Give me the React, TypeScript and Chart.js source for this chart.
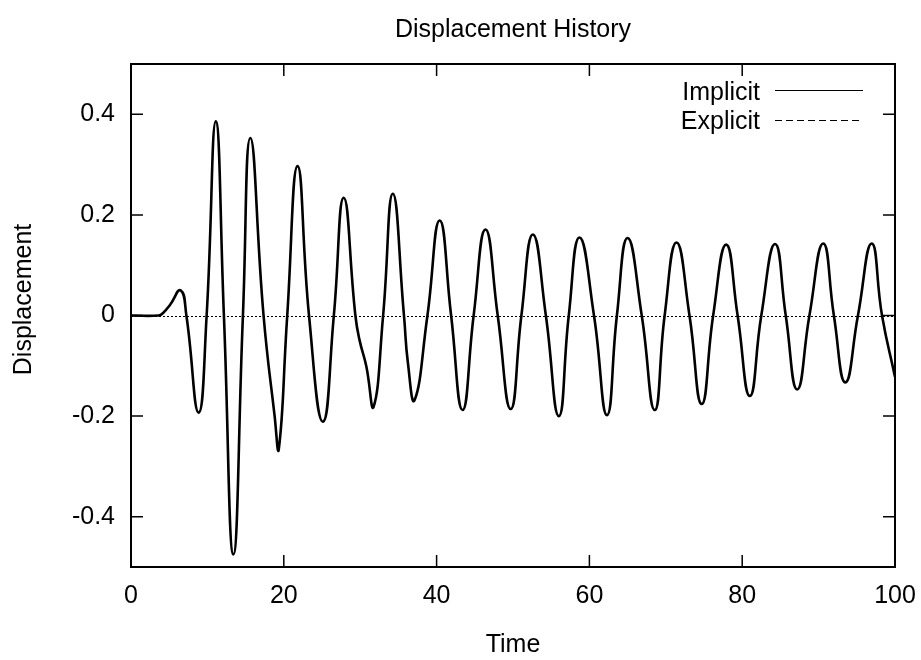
import React, { useEffect, useRef } from "react";
import { Chart, registerables } from "chart.js";

Chart.register(...registerables);

// ---- data ----
const timeValues = [
  0, 3.6, 4.2, 5.1, 6.5, 7.25, 8.85, 9.9, 11.1, 12.16, 13.4, 14.65, 15.62,
  17.35, 18.8, 19.35, 20.45, 21.8, 23.3, 25.12, 26.55, 27.84, 29.37, 29.9,
  30.8, 31.76, 33.0, 34.27, 35.73, 36.25, 37.12, 38.8, 40.4, 41.9, 43.4, 44.85,
  46.4, 48.0, 49.7, 51.1, 52.6, 54.3, 56.0, 57.3, 58.7, 60.6, 62.3, 63.6, 65.0,
  66.85, 68.55, 69.85, 71.4, 73.1, 74.7, 76.2, 77.9, 79.4, 81.0, 82.5, 84.3,
  85.7, 87.2, 88.8, 90.6, 92.0, 93.5, 95.15, 96.95, 98.3, 100,
];

const implicitValues = [
  0, 0, 0.005, 0.021, 0.05, 0, -0.193, 0, 0.386, 0, -0.475, 0, 0.353,
  0, -0.2, -0.265, 0, 0.297, 0, -0.211, 0, 0.234, 0, -0.048,
  -0.101, -0.181, 0, 0.242, 0, -0.095, -0.168, 0, 0.189, 0, -0.188, 0,
  0.171, 0, -0.186, 0, 0.161, 0, -0.2, 0, 0.155, 0, -0.198, 0, 0.154,
  0, -0.188, 0, 0.145, 0, -0.176, 0, 0.141, 0, -0.16, 0, 0.142,
  0, -0.147, 0, 0.143, 0, -0.133, 0, 0.143, 0, -0.122,
];

const explicitValues = [
  0, 0, 0.005, 0.021, 0.05, 0, -0.193, 0, 0.386, 0, -0.475, 0, 0.353,
  0, -0.2, -0.265, 0, 0.297, 0, -0.211, 0, 0.234, 0, -0.048,
  -0.101, -0.181, 0, 0.242, 0, -0.095, -0.168, 0, 0.189, 0, -0.188, 0,
  0.171, 0, -0.186, 0, 0.161, 0, -0.2, 0, 0.155, 0, -0.198, 0, 0.154,
  0, -0.188, 0, 0.145, 0, -0.176, 0, 0.141, 0, -0.16, 0, 0.142,
  0, -0.147, 0, 0.143, 0, -0.133, 0, 0.143, 0, -0.122,
];

const seriesLabels = ["Implicit", "Explicit"];
const xTickValues = [0, 20, 40, 60, 80, 100];
const xTickLabels = ["0", "20", "40", "60", "80", "100"];
const yTickValues = [-0.4, -0.2, 0, 0.2, 0.4];
const yTickLabels = ["-0.4", "-0.2", "0", "0.2", "0.4"];
const chartTitle = "Displacement History";
const xAxisTitle = "Time";
const yAxisTitle = "Displacement";

const FONT = "'Liberation Sans', Arial, Helvetica, sans-serif";
const FONT_SIZE = 25;

const decorPlugin = {
  id: "gnuplotDecor",
  beforeDatasetsDraw(chart: any) {
    const { ctx, chartArea: a, scales } = chart;
    const y0 = Math.round(scales.y.getPixelForValue(0)) + 0.5;
    ctx.save();
    ctx.strokeStyle = "#000";
    ctx.lineWidth = 1;
    ctx.setLineDash([2, 2]);
    ctx.beginPath();
    ctx.moveTo(a.left, y0);
    ctx.lineTo(a.right, y0);
    ctx.stroke();
    ctx.restore();
  },
  afterDraw(chart: any) {
    const { ctx, chartArea: a, scales } = chart;
    ctx.save();
    ctx.strokeStyle = "#000";
    ctx.fillStyle = "#000";
    // ticks (inward, mirrored)
    ctx.lineWidth = 1.5;
    const tl = 12;
    scales.x.ticks.forEach((t: any) => {
      const px = scales.x.getPixelForValue(t.value);
      ctx.beginPath();
      ctx.moveTo(px, a.bottom);
      ctx.lineTo(px, a.bottom - tl);
      ctx.moveTo(px, a.top);
      ctx.lineTo(px, a.top + tl);
      ctx.stroke();
    });
    scales.y.ticks.forEach((t: any) => {
      const py = scales.y.getPixelForValue(t.value);
      ctx.beginPath();
      ctx.moveTo(a.left, py);
      ctx.lineTo(a.left + tl, py);
      ctx.moveTo(a.right, py);
      ctx.lineTo(a.right - tl, py);
      ctx.stroke();
    });
    // border
    ctx.lineWidth = 2;
    ctx.strokeRect(a.left, a.top, a.right - a.left, a.bottom - a.top);

    // texts
    ctx.font = `${FONT_SIZE}px ${FONT}`;
    ctx.textBaseline = "alphabetic";
    ctx.textAlign = "center";
    const cx = (a.left + a.right) / 2;
    ctx.fillText(chartTitle, cx, 36.5);
    ctx.fillText(xAxisTitle, cx, 652);
    ctx.save();
    ctx.translate(31, 299.5);
    ctx.rotate(-Math.PI / 2);
    ctx.fillText(yAxisTitle, 0, 0);
    ctx.restore();

    // legend (gnuplot style: text, then sample)
    const ds = chart.data.datasets;
    const rows = [
      { base: 99.5, line: 90.5 },
      { base: 128.5, line: 120.5 },
    ];
    ds.forEach((d: any, i: number) => {
      ctx.textAlign = "right";
      ctx.fillText(d.label, 760, rows[i].base);
      ctx.lineWidth = 1;
      ctx.setLineDash(d.borderDash || []);
      ctx.beginPath();
      ctx.moveTo(775, rows[i].line);
      ctx.lineTo(863, rows[i].line);
      ctx.stroke();
      ctx.setLineDash([]);
    });
    ctx.restore();
  },
};

export default function App() {
  const ref = useRef<HTMLCanvasElement | null>(null);

  useEffect(() => {
    if (!ref.current) return;
    const implicitData = timeValues.map((t, i) => ({ x: t, y: implicitValues[i] }));
    const explicitData = timeValues.map((t, i) => ({ x: t, y: explicitValues[i] }));
    const chart = new Chart(ref.current, {
      type: "line",
      data: {
        datasets: [
          {
            label: seriesLabels[0],
            data: implicitData,
            borderColor: "#000",
            borderWidth: 2.6,
            pointRadius: 0,
            tension: 0.5,
            fill: false,
          },
          {
            label: seriesLabels[1],
            data: explicitData,
            borderColor: "#000",
            borderWidth: 1,
            borderDash: [7, 4],
            pointRadius: 0,
            tension: 0.5,
            fill: false,
          },
        ],
      },
      options: {
        animation: false,
        responsive: false,
        devicePixelRatio: 1,
        layout: { padding: { top: 64, right: 26, bottom: 0, left: 0 } },
        plugins: {
          legend: { display: false },
          title: { display: false },
          tooltip: { enabled: false },
        },
        events: [],
        scales: {
          x: {
            type: "linear",
            min: 0,
            max: 100,
            afterBuildTicks: (s: any) => {
              s.ticks = xTickValues.map((v) => ({ value: v }));
            },
            afterFit: (s: any) => {
              s.height = 93;
              s.paddingLeft = 0;
              s.paddingRight = 0;
            },
            grid: { display: false, drawTicks: false },
            border: { display: false },
            ticks: {
              padding: 14,
              color: "#000",
              font: { family: FONT, size: FONT_SIZE },
              maxRotation: 0,
              autoSkip: false,
              callback: (v: any) => {
                const idx = xTickValues.findIndex((t) => Math.abs(t - Number(v)) < 1e-6);
                return idx >= 0 ? xTickLabels[idx] : "";
              },
            },
          },
          y: {
            type: "linear",
            min: -0.5,
            max: 0.5,
            afterBuildTicks: (s: any) => {
              s.ticks = yTickValues.map((v) => ({ value: v }));
            },
            afterFit: (s: any) => {
              s.width = 131;
              s.paddingTop = 0;
              s.paddingBottom = 0;
            },
            grid: { display: false, drawTicks: false },
            border: { display: false },
            ticks: {
              padding: 16,
              color: "#000",
              autoSkip: false,
              font: { family: FONT, size: FONT_SIZE },
              callback: (v: any) => {
                const idx = yTickValues.findIndex((t) => Math.abs(t - Number(v)) < 1e-6);
                return idx >= 0 ? yTickLabels[idx] : "";
              },
            },
          },
        },
      },
      plugins: [decorPlugin],
    } as any);
    return () => chart.destroy();
  }, []);

  return (
    <div style={{ position: "absolute", left: 0, top: 0, width: 921, height: 660, background: "#fff" }}>
      <canvas ref={ref} width={921} height={660} style={{ width: 921, height: 660, display: "block" }} />
    </div>
  );
}
